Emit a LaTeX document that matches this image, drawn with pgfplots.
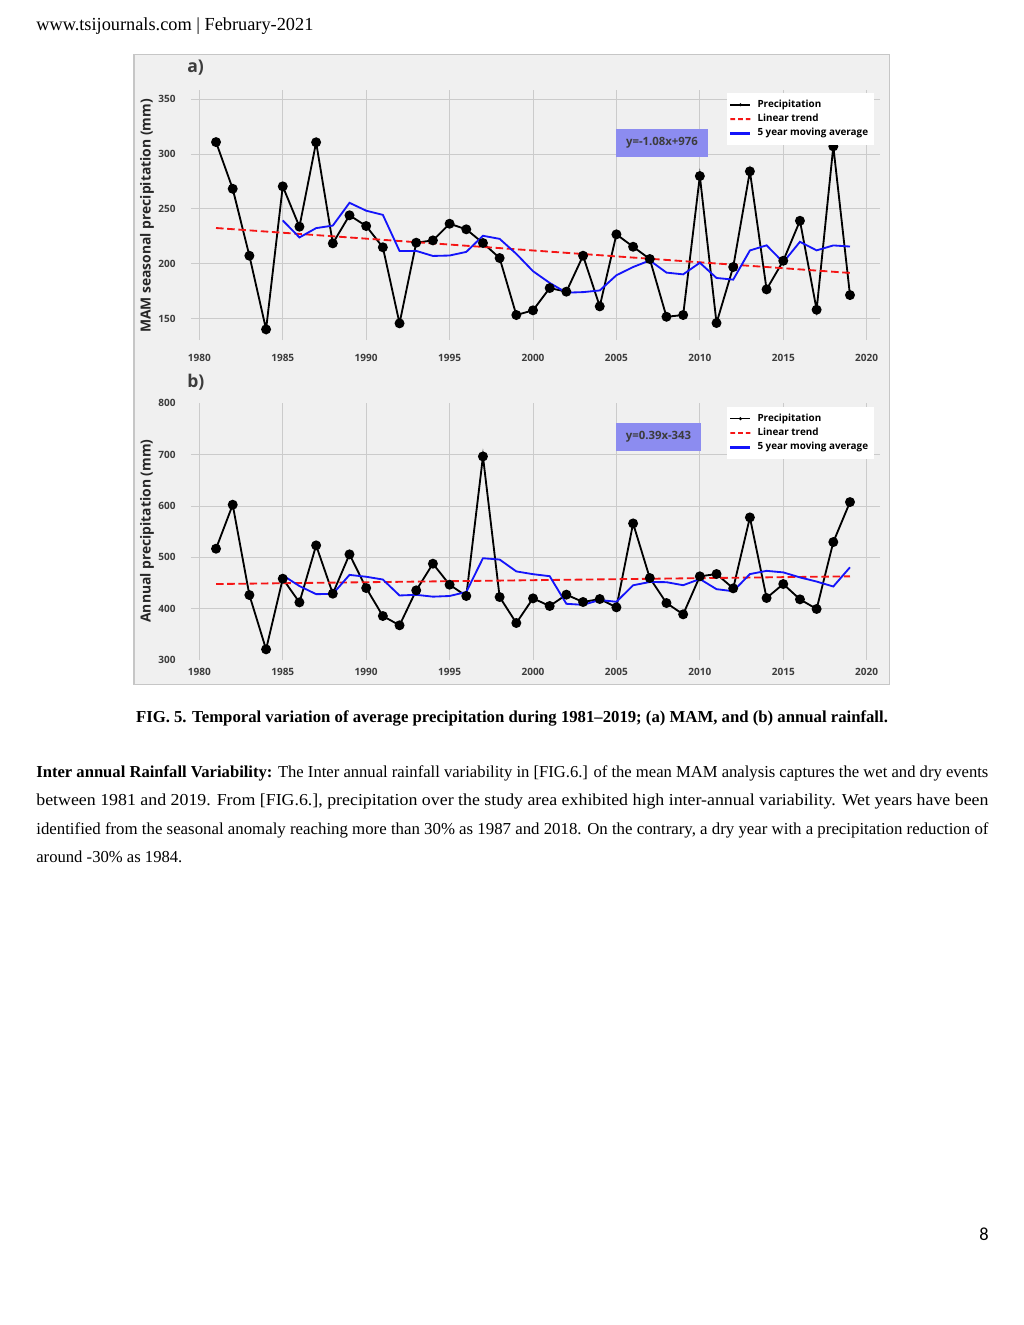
\documentclass[border=0pt]{standalone}
\usepackage{fontspec}
\setmainfont{Liberation Serif}
\newfontfamily\plotfont{Open Sans}
\newfontfamily\pnfont{Carlito}
\usepackage{graphicx}
\usepackage{pgfplots}
\pgfplotsset{compat=1.18}

\definecolor{figbg}{HTML}{F0F0F0}
\definecolor{gridc}{HTML}{CBCBCB}
\definecolor{tickc}{HTML}{3C3C3C}
\definecolor{boxc}{HTML}{8C8CF0}
\definecolor{mablue}{HTML}{1414FA}
\definecolor{trendred}{HTML}{F51515}

\pgfplotsset{
  precip/.style={
    scale only axis, width=411.8pt,
    xmin=1979.5, xmax=2020.8,
    xtick={1980,1985,...,2020},
    grid=major, major grid style={gridc, line width=0.6pt},
    axis line style={draw=none}, major tick length=0pt,
    axis background/.style={fill=figbg},
    ticklabel style={font=\plotfont\bfseries\fontsize{6}{7}\selectfont, text=tickc, inner sep=0pt},
    /pgf/number format/assume math mode=true,
    /pgf/number format/1000 sep={},
    yticklabel style={anchor=east, xshift=-9pt},
    legend cell align=left,
    legend style={font=\plotfont\bfseries\fontsize{5.9}{6.5}\selectfont,
      draw=none, fill=white, anchor=north west, inner xsep=1.8pt, inner ysep=2.5pt,
      row sep=0pt, column sep=2.2pt, nodes={inner xsep=2pt, inner ysep=1.3pt}},
  },
  precline/.style={black, line width=1.1pt, mark=*, mark size=2.4pt,
    legend image code/.code={\fill[black, draw=none] (0pt,-0.5pt) rectangle (12pt,0.5pt);
      \fill[black, draw=none] (6pt,0pt) circle (1pt);}},
  trendline/.style={trendred, line width=1.1pt, dash pattern=on 4.5pt off 2.2pt,
    legend image code/.code={\fill[trendred, draw=none] (0pt,-0.55pt) rectangle (2.8pt,0.55pt)
      (4.6pt,-0.55pt) rectangle (7.4pt,0.55pt) (9.2pt,-0.55pt) rectangle (12pt,0.55pt);}},
  maline/.style={color=mablue, line width=1.1pt, no marks,
    legend image code/.code={\fill[mablue, draw=none] (0pt,-0.7pt) rectangle (12pt,0.7pt);}},
}

\begin{document}
\begin{tikzpicture}[x=0.597656pt, y=-0.597656pt]
\fill[white] (0,0) rectangle (1024,1325);

% page header
\node[anchor=base west, inner sep=0, font=\fontsize{11}{13}\selectfont] at (36,30)
  {\resizebox{165.6pt}{\height}{www.tsijournals.com | February-2021}};

% figure frame
\filldraw[fill=figbg, draw=gray!45, line width=0.6pt] (134,54) rectangle (889,684);

\coordinate (A1) at (191,340);
\coordinate (A2) at (191,660);

% a) MAM
\begin{axis}[precip, at={(A1)}, anchor=south west, height=149.4pt,
    ymin=130.4, ymax=358.5, ytick={150,200,...,350},
    xticklabel style={anchor=center, yshift=-10.8pt},
    legend style={at={(0.778,0.988)}}]
\addplot[precline] coordinates {
 (1981,311.0)(1982,268.4)(1983,207.3)(1984,140.1)(1985,270.6)(1986,233.8)
 (1987,310.8)(1988,218.6)(1989,244.2)(1990,234.4)(1991,215.0)(1992,145.6)
 (1993,219.2)(1994,221.3)(1995,236.5)(1996,231.4)(1997,218.9)(1998,205.2)
 (1999,153.2)(2000,157.5)(2001,177.8)(2002,174.5)(2003,207.3)(2004,161.1)
 (2005,226.8)(2006,215.5)(2007,204.3)(2008,151.6)(2009,153.2)(2010,280.0)
 (2011,145.9)(2012,197.0)(2013,284.3)(2014,176.6)(2015,202.7)(2016,239.2)
 (2017,158.0)(2018,307.1)(2019,171.4)};
\addlegendentry{Precipitation}
\addplot[trendline] coordinates {(1981,232.6)(2019,191.6)};
\addlegendentry{Linear trend}
\addplot[maline] coordinates {
 (1985,239.5)(1986,224.0)(1987,232.5)(1988,234.8)(1989,255.6)(1990,248.4)
 (1991,244.6)(1992,211.6)(1993,211.7)(1994,207.1)(1995,207.5)(1996,210.8)
 (1997,225.5)(1998,222.7)(1999,209.0)(2000,193.2)(2001,182.5)(2002,173.6)
 (2003,174.1)(2004,175.6)(2005,189.5)(2006,197.0)(2007,203.0)(2008,191.9)
 (2009,190.3)(2010,200.9)(2011,187.0)(2012,185.5)(2013,212.1)(2014,216.8)
 (2015,201.3)(2016,220.0)(2017,212.2)(2018,216.7)(2019,215.7)};
\addlegendentry{5 year moving average}
\end{axis}

% b) annual
\begin{axis}[precip, at={(A2)}, anchor=south west, height=153.4pt,
    ymin=300, ymax=800, ytick={400,500,600,700},
    extra y ticks={300,800}, extra y tick style={grid=none},
    xticklabel style={anchor=center, yshift=-7.2pt},
    legend style={at={(0.778,0.986)}}]
\addplot[precline] coordinates {
 (1981,516.8)(1982,602.5)(1983,426.6)(1984,320.8)(1985,458.4)(1986,412.3)
 (1987,523.3)(1988,429.2)(1989,505.8)(1990,440.2)(1991,385.7)(1992,367.6)
 (1993,435.7)(1994,487.6)(1995,446.7)(1996,424.7)(1997,696.6)(1998,422.7)
 (1999,372.1)(2000,420.1)(2001,405.2)(2002,427.3)(2003,413.0)(2004,418.8)
 (2005,402.6)(2006,566.1)(2007,459.7)(2008,411.0)(2009,389.0)(2010,463.0)
 (2011,467.5)(2012,439.6)(2013,577.8)(2014,420.8)(2015,448.0)(2016,418.2)
 (2017,399.4)(2018,529.8)(2019,607.7)};
\addlegendentry{Precipitation}
\addplot[trendline] coordinates {(1981,448.0)(2019,463.0)};
\addlegendentry{Linear trend}
\addplot[maline] coordinates {
 (1985,465.0)(1986,444.1)(1987,428.3)(1988,428.8)(1989,465.8)(1990,462.2)
 (1991,456.8)(1992,425.7)(1993,427.0)(1994,423.4)(1995,424.7)(1996,432.5)
 (1997,498.3)(1998,495.7)(1999,472.6)(2000,467.2)(2001,463.3)(2002,409.5)
 (2003,407.5)(2004,416.9)(2005,413.4)(2006,445.6)(2007,452.0)(2008,451.6)
 (2009,445.7)(2010,457.8)(2011,438.0)(2012,434.0)(2013,467.4)(2014,473.7)
 (2015,470.7)(2016,460.9)(2017,452.8)(2018,443.2)(2019,480.6)};
\addlegendentry{5 year moving average}
\end{axis}

% panel letters, axis titles, equation boxes
\node[anchor=west, inner sep=0, font=\plotfont\bfseries\fontsize{10.5}{12}\selectfont, text=tickc] at (187,68) {a)};
\node[anchor=west, inner sep=0, font=\plotfont\bfseries\fontsize{10.5}{12}\selectfont, text=tickc] at (187,382) {b)};
\node[rotate=90, inner sep=0, font=\plotfont\bfseries\fontsize{8.3}{9}\selectfont, text=black!85] at (147,216) {MAM seasonal precipitation (mm)};
\node[rotate=90, inner sep=0, font=\plotfont\bfseries\fontsize{8.3}{9}\selectfont, text=black!85] at (147,531) {Annual precipitation (mm)};
\node[fill=boxc, minimum width=55pt, minimum height=16.7pt, inner sep=0,
  font=\plotfont\bfseries\fontsize{6.8}{8}\selectfont, text=tickc] at (662,143) {y=-1.08x+976};
\node[fill=boxc, minimum width=50.8pt, minimum height=16.7pt, inner sep=0,
  font=\plotfont\bfseries\fontsize{6.8}{8}\selectfont, text=tickc] at (658.5,437) {y=0.39x-343};

% caption
\node[anchor=base, inner sep=0, font=\bfseries\fontsize{10}{12}\selectfont] at (512,722)
  {\resizebox{449.4pt}{\height}{FIG. 5. Temporal variation of average precipitation during 1981--2019; (a) MAM, and (b) annual rainfall.}};

% body text
\begin{scope}[every node/.style={anchor=base west, inner sep=0, font=\fontsize{10}{12}\selectfont}]
\node at (36,777) {\resizebox{569pt}{\height}{\textbf{Inter annual Rainfall Variability:} The Inter annual rainfall variability in [FIG.6.] of the mean MAM analysis captures the wet and dry events}};
\node at (36,805) {\resizebox{569pt}{\height}{between 1981 and 2019. From [FIG.6.], precipitation over the study area exhibited high inter-annual variability. Wet years have been}};
\node at (36,834) {\resizebox{569pt}{\height}{identified from the seasonal anomaly reaching more than 30\% as 1987 and 2018. On the contrary, a dry year with a precipitation reduction of}};
\node at (36,862) {\resizebox{87.3pt}{\height}{around -30\% as 1984.}};
\end{scope}

% page number
\node[anchor=base east, inner sep=0, font=\pnfont\fontsize{11}{13}\selectfont] at (989,1240) {8};
\end{tikzpicture}
\end{document}
